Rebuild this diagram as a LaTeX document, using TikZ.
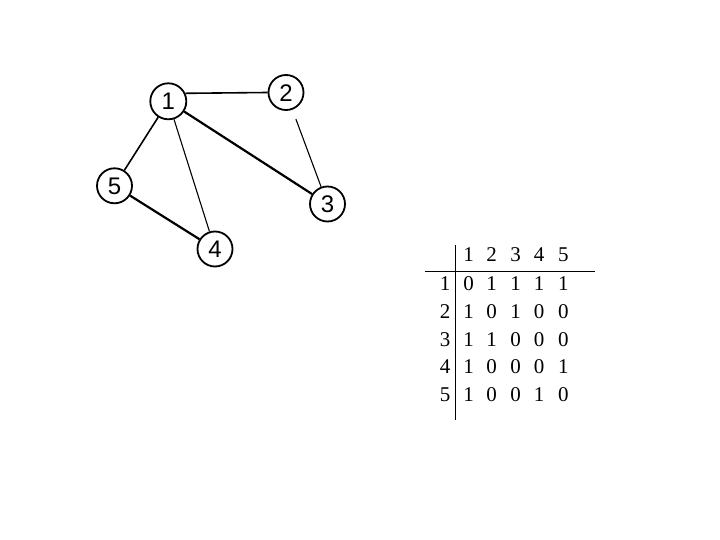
\documentclass[tikz,border=0pt]{standalone}
\usepackage{fontspec}
\setmainfont{Liberation Serif}
\newfontfamily\arialf{Liberation Sans}
\begin{document}
\begin{tikzpicture}[x=1pt,y=-1pt,
  vert/.style={circle,draw,line width=1.8pt,minimum size=35pt,inner sep=0pt,text height=17.2pt,text depth=0pt,font=\arialf\fontsize{24}{24}\selectfont},
  thickedge/.style={line width=2.2pt},
  midedge/.style={line width=1.6pt},
  thinedge/.style={line width=1.1pt},
  cell/.style={inner sep=0pt,text height=13.9pt,text depth=0pt,font=\fontsize{21}{21}\selectfont},
  rule/.style={line width=1pt}]
\useasboundingbox (0,0) rectangle (720,540);
% graph
\node[vert,minimum size=36pt] (n1) at (168.3,101.3) {1};
\node[vert] (n2) at (286,92.5) {2};
\node[vert] (n3) at (327.5,204) {3};
\node[vert] (n4) at (215,249) {4};
\node[vert] (n5) at (114.5,185.8) {5};
\draw[midedge] (n1.25) -- (n2.west);
\draw[thickedge] (n1) -- (n3);
\draw[midedge] (n1) -- (n5);
\draw[thinedge] (n1) -- (n4);
\draw[thickedge] (n5) -- (n4);
\draw[thinedge,shorten <=10pt] (n2) -- (n3);
% table
\foreach \c/\x in {1/468.5,2/491.7,3/515.7,4/539,5/563.3}{
  \node[cell] (h\c) at (\x,255) {\c};
}
\foreach \r/\y in {1/283.5,2/311.5,3/339.5,4/367,5/395}{
  \node[cell] (r\r) at (445,\y) {\r};
}
\foreach \r/\y/\a/\b/\cc/\d/\e in {1/283.5/0/1/1/1/1,2/311.5/1/0/1/0/0,3/339.5/1/1/0/0/0,4/367/1/0/0/0/1,5/395/1/0/0/1/0}{
  \node[cell] (c\r1) at (468.5,\y) {\a};
  \node[cell] (c\r2) at (491.7,\y) {\b};
  \node[cell] (c\r3) at (515.7,\y) {\cc};
  \node[cell] (c\r4) at (539,\y) {\d};
  \node[cell] (c\r5) at (563.3,\y) {\e};
}
\coordinate (vt) at (455.7,245);
\coordinate (vb) at (455.7,420);
\coordinate (hl) at (425,271);
\coordinate (hr) at (595,271);
\draw[rule] (vt) -- (vb);
\draw[rule] (hl) -- (hr);
\end{tikzpicture}
\end{document}
